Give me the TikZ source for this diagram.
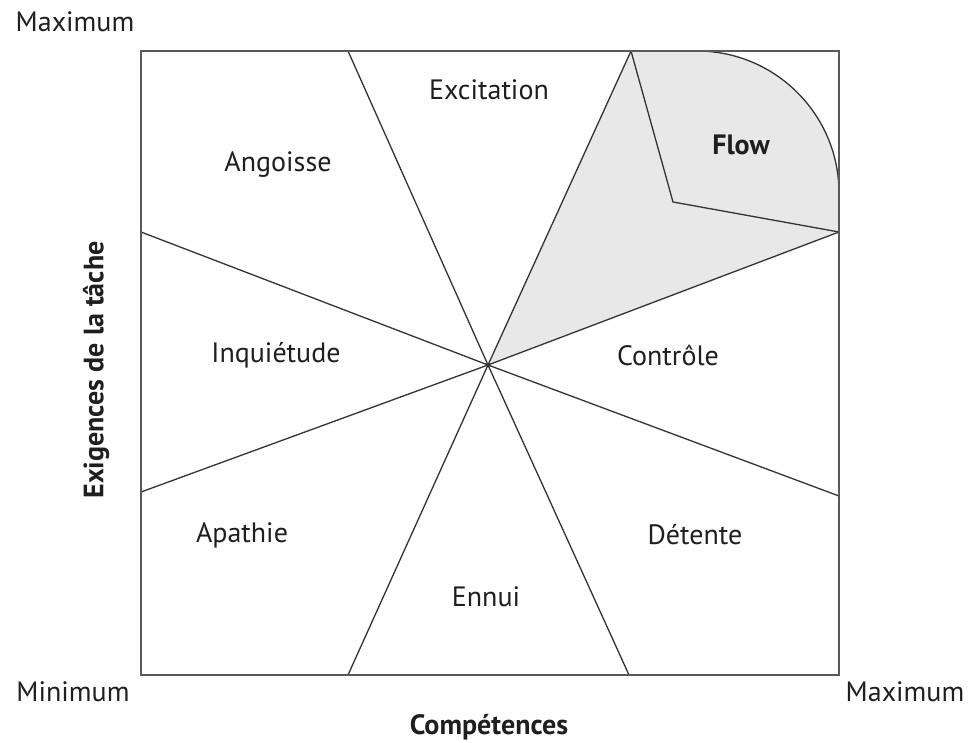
\documentclass[tikz,border=0pt]{standalone}
\usepackage{fontspec}
\setmainfont{PT Sans}
\begin{document}
\begin{tikzpicture}[x=1pt,y=1pt]
\tikzstyle{every node}=[text=black!88,inner sep=0pt,font=\fontsize{28}{32}\selectfont]
\tikzstyle{ligne}=[draw=black!80,line width=1.3pt]
\useasboundingbox (0,0) rectangle (978,-743);
\coordinate (c) at (488,-365);
\coordinate (hg) at (348,-51);
\coordinate (hd) at (631,-51);
\coordinate (bg) at (348,-675);
\coordinate (bd) at (629,-675);
\coordinate (gh) at (141,-232);
\coordinate (gb) at (141,-492);
\coordinate (dh) at (839,-232);
\coordinate (db) at (839,-496);
\coordinate (f) at (673,-202);
% zone flow
\fill[black!9] (c) -- (hd) -- (697,-51) arc[start angle=90,end angle=0,radius=142] -- (dh) -- cycle;
\draw[ligne] (697,-51) arc[start angle=90,end angle=0,radius=142];
\draw[ligne] (hd) -- (f) -- (dh);
\draw[ligne] (c) -- (hg)
      (c) -- (hd)
      (c) -- (bg)
      (c) -- (bd)
      (c) -- (gh)
      (c) -- (gb)
      (c) -- (dh)
      (c) -- (db);
\draw[draw=black!65,line width=1.6pt] (141,-51) rectangle (839,-675);
\node at (489,-90) (exc) {Excitation};
\node at (278,-165) (ang) {Angoisse};
\node at (741,-145) (flw) {\bfseries Flow};
\node at (276,-355) (inq) {Inquiétude};
\node at (668,-355) (ctr) {Contrôle};
\node at (242,-535) (apa) {Apathie};
\node at (695,-535) (det) {Détente};
\node at (486,-597) (enn) {Ennui};
\node at (75,-22) (maxy) {Maximum};
\node at (73,-692) (minx) {Minimum};
\node at (905,-692) (maxx) {Maximum};
\node at (489,-727) (comp) {\bfseries Compétences};
\node[rotate=90] at (96,-370) (exi) {\bfseries Exigences de la tâche};
\end{tikzpicture}
\end{document}
